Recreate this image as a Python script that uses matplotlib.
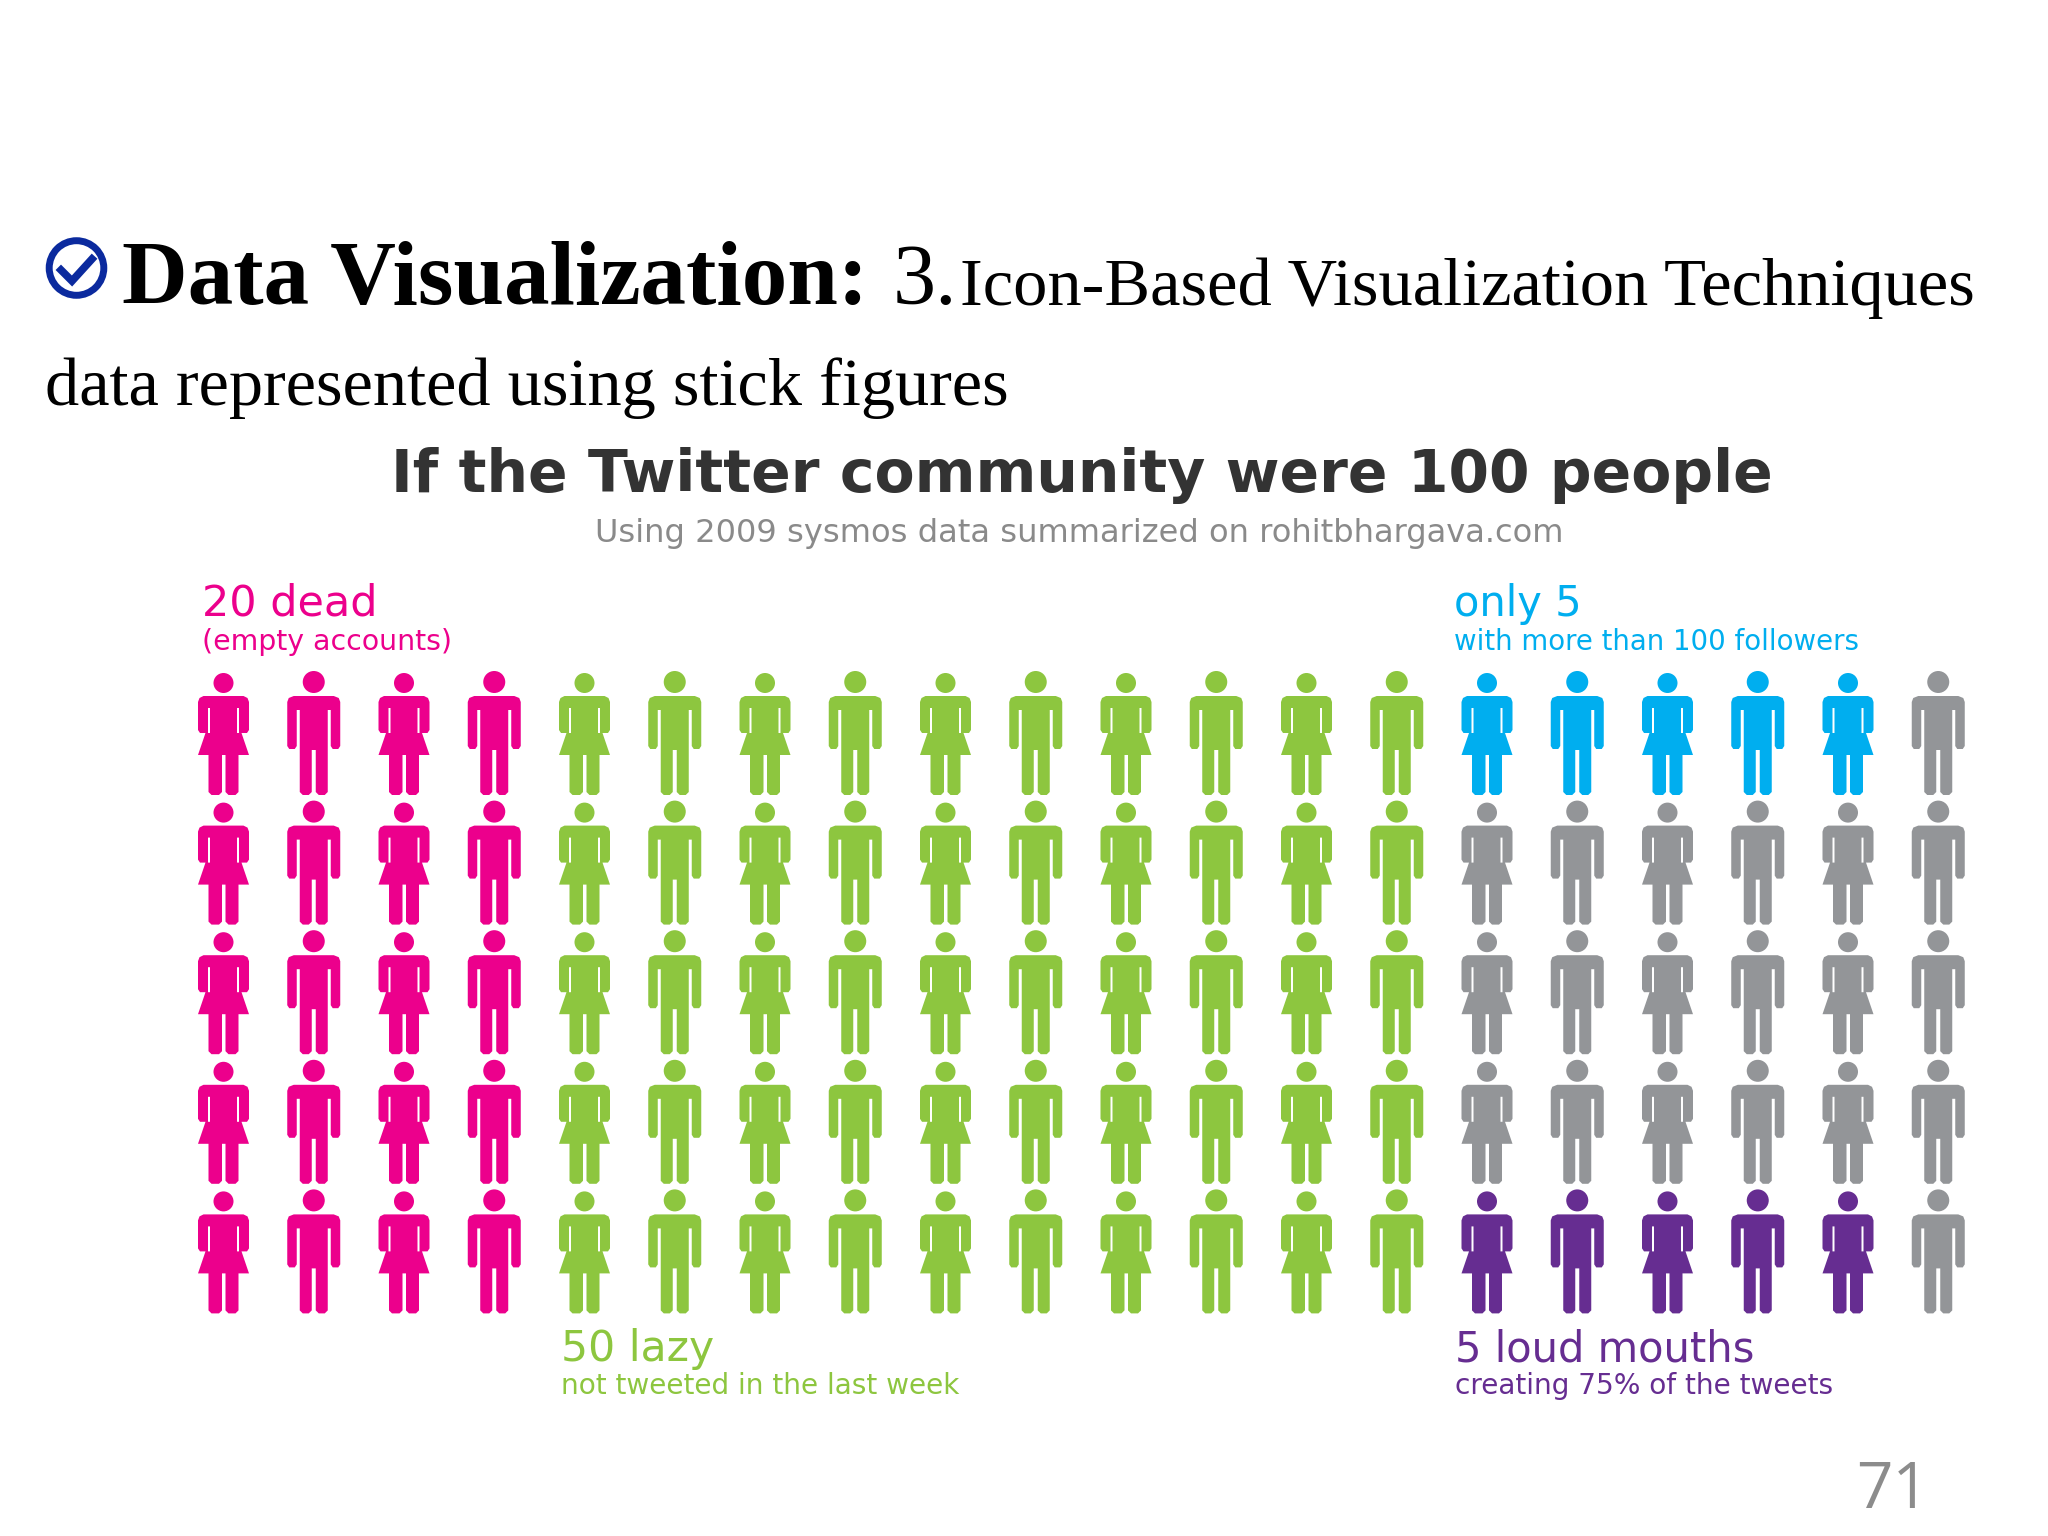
import matplotlib
matplotlib.use('Agg')
import matplotlib.pyplot as plt
from matplotlib.path import Path
from matplotlib.patches import PathPatch, Circle
from matplotlib.transforms import Affine2D

# people per group
group_names = ['dead', 'lazy', 'followers', 'loud', 'other']
group_counts = [20, 50, 5, 5, 20]
group_colors = ['#EC008C', '#8DC63F', '#00AEEF', '#662D91', '#939598']

n_rows = 5
n_cols = 20

title_main = 'If the Twitter community were 100 people'
title_sub = 'Using 2009 sysmos data summarized on rohitbhargava.com'


def build_grid():
    # columns fill top to bottom, the last six columns are special
    grid = [[None] * n_cols for _ in range(n_rows)]
    for r in range(n_rows):
        for c in range(4):
            grid[r][c] = 'dead'
        for c in range(4, 14):
            grid[r][c] = 'lazy'
        for c in range(14, 20):
            grid[r][c] = 'other'
    for c in range(14, 14 + group_counts[2]):
        grid[0][c] = 'followers'
    for c in range(14, 14 + group_counts[3]):
        grid[n_rows - 1][c] = 'loud'
    return grid


def poly(points):
    return Path(points + [points[0]], closed=True)


def male_icon():
    # origin is head top centre, y goes down
    parts = [
        Path.circle((0, 11), 11),
        poly([(-20, 25), (20, 25), (25, 27), (26.5, 31), (26.5, 75), (24.5, 78), (19, 78), (17, 75),
              (17, 39), (14, 39), (14, 121), (11, 124), (5, 124), (2, 121), (2, 79),
              (-2, 79), (-2, 121), (-5, 124), (-11, 124), (-14, 121), (-14, 39), (-17, 39),
              (-17, 75), (-19, 78), (-24.5, 78), (-26.5, 75), (-26.5, 31), (-25, 27)]),
    ]
    return Path.make_compound_path(*parts)


def female_icon():
    parts = [
        Path.circle((0, 10), 10),
        poly([(-20, 23), (20, 23), (24, 25), (25.5, 29), (25.5, 57), (23.5, 60), (18, 60), (25.5, 82),
              (15, 82), (15, 119), (12, 122), (5, 122), (2, 119), (2, 82), (-1.5, 82),
              (-1.5, 119), (-4.5, 122), (-12, 122), (-15, 119), (-15, 82), (-25.5, 82),
              (-18, 60), (-23.5, 60), (-25.5, 57), (-25.5, 29), (-24, 25)]),
        # thin slits between arms and body, wound the other way so they stay empty
        poly([(-15.5, 35), (-15.5, 60), (-13.5, 60), (-13.5, 35)]),
        poly([(13.5, 35), (13.5, 60), (15.5, 60), (15.5, 35)]),
    ]
    return Path.make_compound_path(*parts)


fig = plt.figure(figsize=(20.48, 15.36), dpi=100)
ax = fig.add_axes([0, 0, 1, 1])
ax.set_xlim(0, 2048)
ax.set_ylim(1536, 0)
ax.axis('off')

colors = dict(zip(group_names, group_colors))
grid = build_grid()
male = male_icon()
female = female_icon()
for r in range(n_rows):
    for c in range(n_cols):
        icon = female if c % 2 == 0 else male
        x = 223.5 + c * 90.25
        y = 671 + r * 129.6
        if c % 2 == 0:
            y += 2
        t = Affine2D().translate(x, y) + ax.transData
        ax.add_patch(PathPatch(icon, facecolor=colors[grid[r][c]], edgecolor='none', transform=t))

# slide heading
serif = 'Liberation Serif'
ax.add_patch(Circle((76.5, 268), 27.3, facecolor='none', edgecolor='#0B2A9E', linewidth=5))
ax.plot([61, 72, 92], [270, 281, 259], color='#0B2A9E', linewidth=5.5, solid_joinstyle='miter')
ax.text(122, 304, 'Data Visualization:', family=serif, weight='bold', fontsize=65.5, color='black')
ax.text(893, 304, '3.', family=serif, fontsize=62, color='black')
ax.text(960, 305, 'Icon-Based Visualization Techniques', family=serif, fontsize=49.3, color='black')
ax.text(45, 405, 'data represented using stick figures', family=serif, fontsize=49.2, color='black')

# infographic text
ax.text(391, 492, title_main, weight='bold', fontsize=42, color='#333333')
ax.text(595, 542, title_sub, fontsize=23.1, color='#8A8A8A')

ax.text(202, 616, '20 dead', fontsize=31, color=group_colors[0])
ax.text(202, 650, '(empty accounts)', fontsize=20.4, color=group_colors[0])
ax.text(1454, 616, 'only 5', fontsize=30, color=group_colors[2])
ax.text(1454, 650, 'with more than 100 followers', fontsize=19.9, color=group_colors[2])
ax.text(561, 1361, '50 lazy', fontsize=30.6, color=group_colors[1])
ax.text(561, 1394, 'not tweeted in the last week', fontsize=20.2, color=group_colors[1])
ax.text(1455, 1361, '5 loud mouths', fontsize=30, color=group_colors[3])
ax.text(1455, 1394, 'creating 75% of the tweets', fontsize=20.2, color=group_colors[3])

ax.text(1856, 1508, '71', family='Open Sans', fontsize=46, color='#8C8C8C')

plt.savefig('out.png', dpi=100)
